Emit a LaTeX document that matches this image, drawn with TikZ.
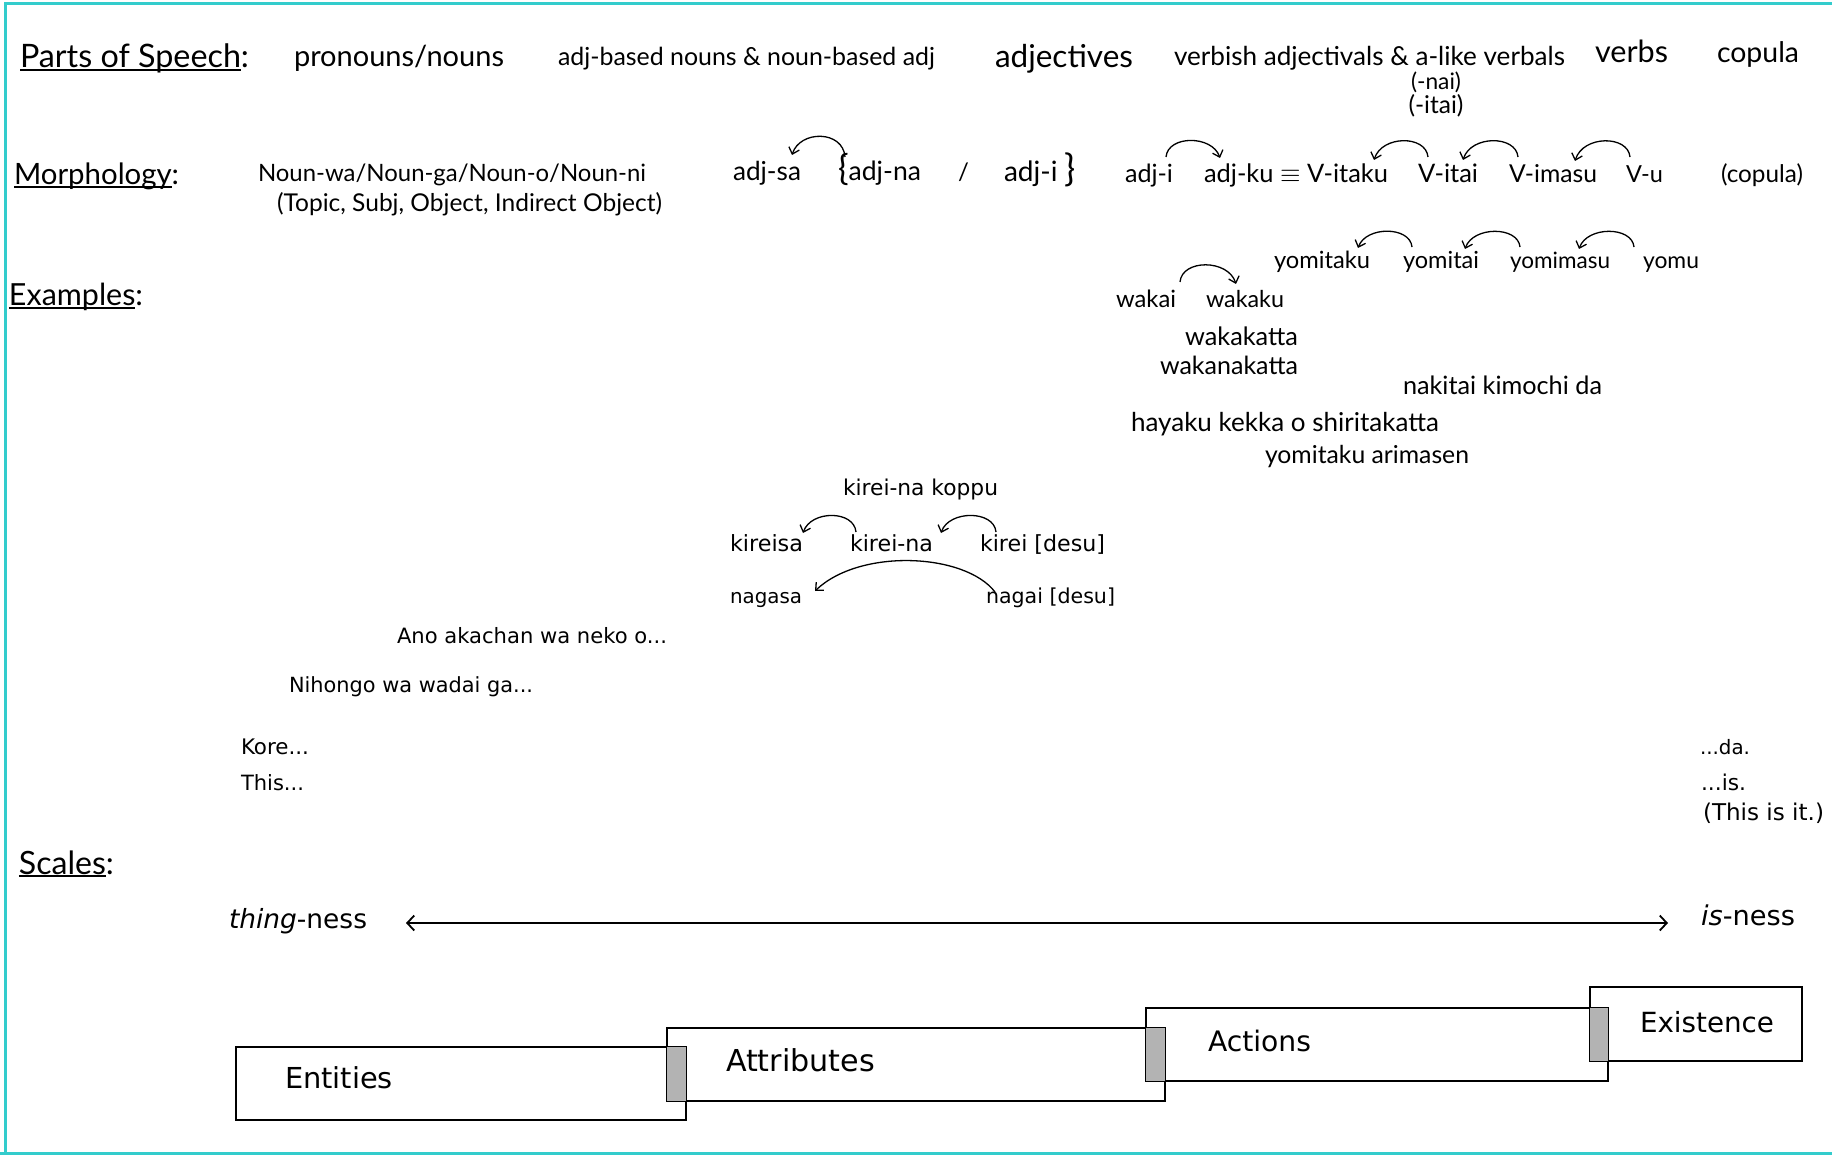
\documentclass[tikz,border=0pt]{standalone}
\usepackage{fontspec}
\usepackage{graphicx}
\setmainfont{Lato}
\newfontfamily\tah{DejaVu Sans}
\usetikzlibrary{arrows.meta}
\definecolor{bordc}{HTML}{33CCCC}
\definecolor{stripc}{HTML}{B3B3B3}
\newsavebox\ulbox
\newcommand\ulx[1]{\sbox\ulbox{#1}\rlap{\rule[-0.1em]{\wd\ulbox}{0.07em}}\usebox\ulbox}
\newcommand\fw[2]{\resizebox{#1pt}{!}{#2}}
\newcommand\bigbr[1]{{\fontsize{32}{32}\selectfont#1}}
\begin{document}
\begin{tikzpicture}[x=1pt,y=-1pt,
  tx/.style={anchor=base west,inner sep=0pt,outer sep=0pt,font=\fontsize{24}{28}\selectfont},
  txc/.style={tx,anchor=base},
  tt/.style={tx,font=\fontsize{20}{24}\selectfont\tah},
  arc/.style={line width=1.3pt,-{Straight Barb[length=6pt,width=11pt]}},
  bx/.style={draw,line width=2.2pt,anchor=north west,inner sep=0pt,outer sep=0pt},
  scalearr/.style={line width=1.8pt,{Straight Barb[length=7pt,width=15pt]}-{Straight Barb[length=7pt,width=15pt]}}]
\useasboundingbox (0,0) rectangle (1832,1155);
% border
\draw[bordc,line width=3pt] (5.5,1160) -- (5.5,3.5) -- (1840,3.5);
\draw[bordc,line width=3pt] (0,1153.5) -- (1840,1153.5);

% Row 1: parts of speech
\node[tx] (pos) at (20,68) {\fw{229}{\ulx{Parts of Speech}:}};
\node[tx] (pron) at (294,67) {\fw{210}{pronouns/nouns}};
\node[tx] (adjb) at (558,66) {\fw{377}{adj-based nouns \& noun-based adj}};
\node[tx] (adjs) at (995,68) {\fw{138}{adjectives}};
\node[tx] (verbish) at (1174,66) {\fw{391}{verbish adjectivals \& a-like verbals}};
\node[tx] (verbs) at (1595,63) {\fw{73}{verbs}};
\node[tx] (cop) at (1717,63) {\fw{82}{copula}};
\node[txc] (nai) at (1436,90) {\fw{50}{(-nai)}};
\node[txc] (itai) at (1436,114) {\fw{55}{(-itai)}};

% Row 2: morphology
\node[tx] (morph) at (14,185) {\fw{165}{\ulx{Morphology}:}};
\node[tx] (nounwa) at (258,182) {\fw{388}{Noun-wa/Noun-ga/Noun-o/Noun-ni}};
\node[tx] (topic) at (277,212) {\fw{385}{(Topic, Subj, Object, Indirect Object)}};
\node[tx] (adjsa) at (733,181) {\fw{68}{adj-sa}};
\node[tx] (adjna) at (838,181) {\fw{83}{\bigbr{\{}adj-na}};
\node[tx] (slash) at (958,181) {/};
\node[tx] (adjia) at (1004,182) {\fw{72}{adj-i \bigbr{\}}}};
\node[tx] (adjib) at (1125,183) {\fw{48}{adj-i}};
\node[tx] (adjku) at (1204,183) {\fw{184}{adj-ku $\equiv$ V-itaku}};
\node[tx] (vitai) at (1418,183) {\fw{60}{V-itai}};
\node[tx] (vimasu) at (1509,183) {\fw{88}{V-imasu}};
\node[tx] (vu) at (1626,183) {\fw{37}{V-u}};
\node[tx] (copm) at (1721,183) {\fw{82}{(copula)}};

\coordinate (a1s) at (845,157); \coordinate (a1e) at (792,155);
\draw[arc] (a1s) .. controls (843,130) and (800,130) .. (a1e);
\coordinate (a2s) at (1166,157); \coordinate (a2e) at (1220,158);
\draw[arc] (a2s) .. controls (1168,135) and (1212,135) .. (a2e);
\coordinate (a3s) at (1428,157); \coordinate (a3e) at (1374,160);
\draw[arc] (a3s) .. controls (1426,135) and (1382,135) .. (a3e);
\coordinate (a4s) at (1518,157); \coordinate (a4e) at (1463,160);
\draw[arc] (a4s) .. controls (1516,135) and (1471,135) .. (a4e);
\coordinate (a5s) at (1630,157); \coordinate (a5e) at (1575,161);
\draw[arc] (a5s) .. controls (1628,135) and (1583,135) .. (a5e);

% Examples
\node[tx] (ex) at (9,306) {\fw{134}{\ulx{Examples}:}};
\node[tx] (yomitaku) at (1274,269) {\fw{96}{yomitaku}};
\node[tx] (yomitai) at (1403,269) {\fw{76}{yomitai}};
\node[tx] (yomimasu) at (1510,269) {\fw{100}{yomimasu}};
\node[tx] (yomu) at (1643,269) {\fw{56}{yomu}};
\coordinate (b1s) at (1412,247); \coordinate (b1e) at (1358,248);
\draw[arc] (b1s) .. controls (1410,226) and (1366,226) .. (b1e);
\coordinate (b2s) at (1520,247); \coordinate (b2e) at (1465,249);
\draw[arc] (b2s) .. controls (1518,226) and (1473,226) .. (b2e);
\coordinate (b3s) at (1634,247); \coordinate (b3e) at (1579,249);
\draw[arc] (b3s) .. controls (1632,226) and (1587,226) .. (b3e);

\node[tx] (wakai) at (1116,308) {\fw{60}{wakai}};
\node[tx] (wakaku) at (1206,308) {\fw{78}{wakaku}};
\coordinate (c1s) at (1180,282); \coordinate (c1e) at (1236,284);
\draw[arc] (c1s) .. controls (1182,259) and (1228,259) .. (c1e);
\node[tx] (wakakatta) at (1185,346) {\fw{113}{wakakatta}};
\node[tx] (wakanakatta) at (1160,375) {\fw{138}{wakanakatta}};
\node[tx] (nakitai) at (1403,395) {\fw{199}{nakitai kimochi da}};
\node[tx] (hayaku) at (1131,432) {\fw{308}{hayaku kekka o shiritakatta}};
\node[tx] (yomar) at (1265,464) {\fw{204}{yomitaku arimasen}};

\node[tt] (koppu) at (843,495) {\fw{155}{kirei-na koppu}};
\node[tt] (kireisa) at (730,551) {\fw{73}{kireisa}};
\node[tt] (kireina) at (850,551) {\fw{83}{kirei-na}};
\node[tt] (kirei) at (980,551) {\fw{125}{kirei [desu]}};
\coordinate (d1s) at (856,532); \coordinate (d1e) at (803,533);
\draw[arc] (d1s) .. controls (854,510) and (811,510) .. (d1e);
\coordinate (d2s) at (996,532); \coordinate (d2e) at (941,533);
\draw[arc] (d2s) .. controls (994,510) and (949,510) .. (d2e);
\node[tt] (nagasa) at (730,603) {\fw{72}{nagasa}};
\node[tt] (nagai) at (986,603) {\fw{129}{nagai [desu]}};
\coordinate (e1s) at (995,592); \coordinate (e1e) at (815,591);
\draw[arc] (e1s) .. controls (965,553) and (860,548) .. (e1e);

\node[tt] (ano) at (397,643) {\fw{270}{Ano akachan wa neko o...}};
\node[tt] (nihongo) at (289,692) {\fw{244}{Nihongo wa wadai ga...}};
\node[tt] (kore) at (241,754) {\fw{68}{Kore...}};
\node[tt] (this) at (241,790) {\fw{63}{This...}};
\node[tt] (da) at (1700,754) {\fw{50}{...da.}};
\node[tt] (is) at (1701,790) {\fw{45}{...is.}};
\node[tt] (thisisit) at (1703,820) {\fw{121}{(This is it.)}};

% Scales
\node[tx] (sc) at (19,874) {\fw{95}{\ulx{Scales}:}};
\node[tt] (thing) at (229,928) {\fw{138}{\textit{thing}-ness}};
\node[tt] (isness) at (1701,925) {\fw{94}{\textit{is}-ness}};
\coordinate (sl) at (406,923); \coordinate (sr) at (1668,923);
\draw[scalearr] (sl) -- (sr);

% boxes
\node[bx,minimum width=450pt,minimum height=73pt] (ent) at (236,1047) {};
\node[bx,minimum width=498pt,minimum height=73pt] (att) at (667,1028) {};
\node[bx,minimum width=462pt,minimum height=73pt] (act) at (1146,1008) {};
\node[bx,minimum width=212pt,minimum height=74pt] (exi) at (1590,987) {};
\fill[stripc] (att.north west |- ent.north) rectangle (ent.south east |- att.south);
\fill[stripc] (act.north west |- att.north) rectangle (att.south east |- act.south);
\fill[stripc] (exi.north west |- act.north) rectangle (act.south east |- exi.south);
\node[tt] (entl) at (285,1088) {\fw{108}{Entities}};
\node[tt] (attl) at (726,1071) {\fw{149}{Attributes}};
\node[tt] (actl) at (1208,1051) {\fw{103}{Actions}};
\node[tt] (exil) at (1640,1032) {\fw{134}{Existence}};
\end{tikzpicture}
\end{document}
